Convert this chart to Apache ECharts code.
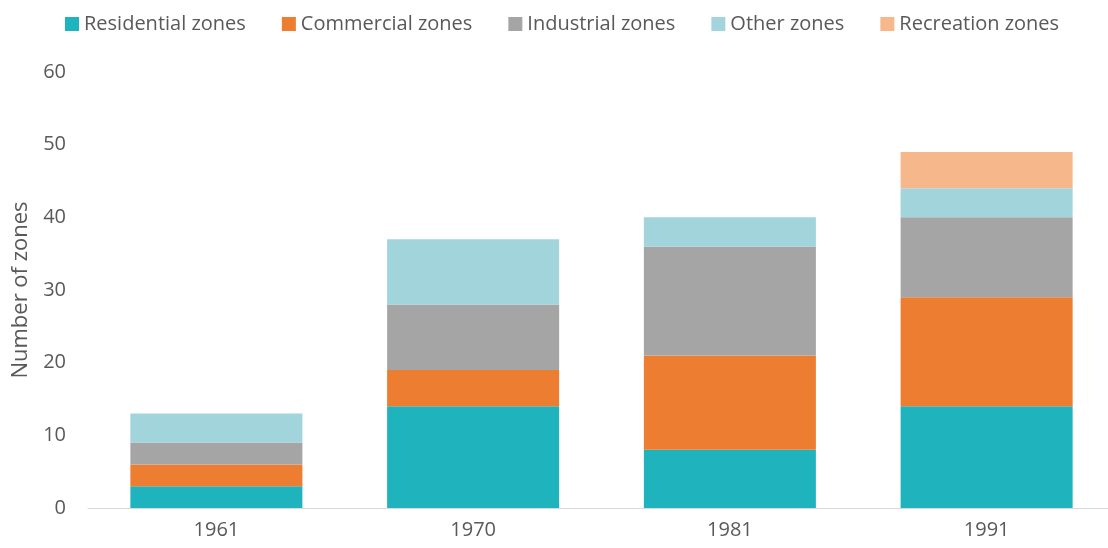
<!DOCTYPE html>
<html>
<head>
<meta charset="utf-8">
<script src="https://cdn.jsdelivr.net/npm/echarts@6/dist/echarts.min.js"></script>
<style>
  html, body { margin: 0; padding: 0; background: #ffffff; }
  #chart { width: 1108px; height: 548px; }
</style>
</head>
<body>
<div id="chart"></div>
<script>
var years = ['1961', '1970', '1981', '1991']
var residential = [3, 14, 8, 14]
var commercial = [3, 5, 13, 15]
var industrial = [3, 9, 15, 11]
var other = [4, 9, 4, 4]
var recreation = [0, 0, 0, 5]
var yTicks = [0, 10, 20, 30, 40, 50, 60]

var seriesNames = ['Residential zones', 'Commercial zones', 'Industrial zones', 'Other zones', 'Recreation zones']
var seriesData = [residential, commercial, industrial, other, recreation]
var colors = ['#1fb4bd', '#ed7d31', '#a5a5a5', '#a1d4db', '#f6b88b']

var textColor = '#595959'
var font = 'Open Sans'

var myChart = echarts.init(document.getElementById('chart'))
var option = {
  backgroundColor: '#ffffff',
  animation: false,
  color: colors,
  legend: {
    top: 9,
    left: 60,
    itemWidth: 14,
    itemHeight: 14,
    itemGap: 36,
    icon: 'rect',
    textStyle: { color: textColor, fontSize: 20, fontFamily: font },
    data: seriesNames
  },
  grid: {
    left: 88,
    width: 1027,
    top: 72,
    bottom: 40,
    outerBoundsMode: 'none'
  },
  xAxis: {
    type: 'category',
    data: years,
    axisLine: { lineStyle: { color: '#d9d9d9', width: 1 } },
    axisTick: { show: false },
    axisLabel: { color: textColor, fontSize: 20, fontFamily: font, margin: 12 }
  },
  yAxis: {
    type: 'value',
    min: yTicks[0],
    max: yTicks[yTicks.length - 1],
    interval: 10,
    name: 'Number of zones',
    nameLocation: 'middle',
    nameGap: 55,
    nameTextStyle: { color: textColor, fontSize: 22, fontFamily: font },
    axisLine: { show: false },
    axisTick: { show: false },
    splitLine: { show: false },
    axisLabel: { color: textColor, fontSize: 20, fontFamily: font, margin: 22 }
  },
  series: seriesNames.map(function (name, i) {
    return {
      name: name,
      type: 'bar',
      stack: 'zones',
      barCategoryGap: '33%',
      data: seriesData[i].map(function (v) { return v === 0 ? null : v })
    }
  })
}
myChart.setOption(option, true)
window.addEventListener('resize', () => {
  myChart.resize()
})
</script>
</body>
</html>
